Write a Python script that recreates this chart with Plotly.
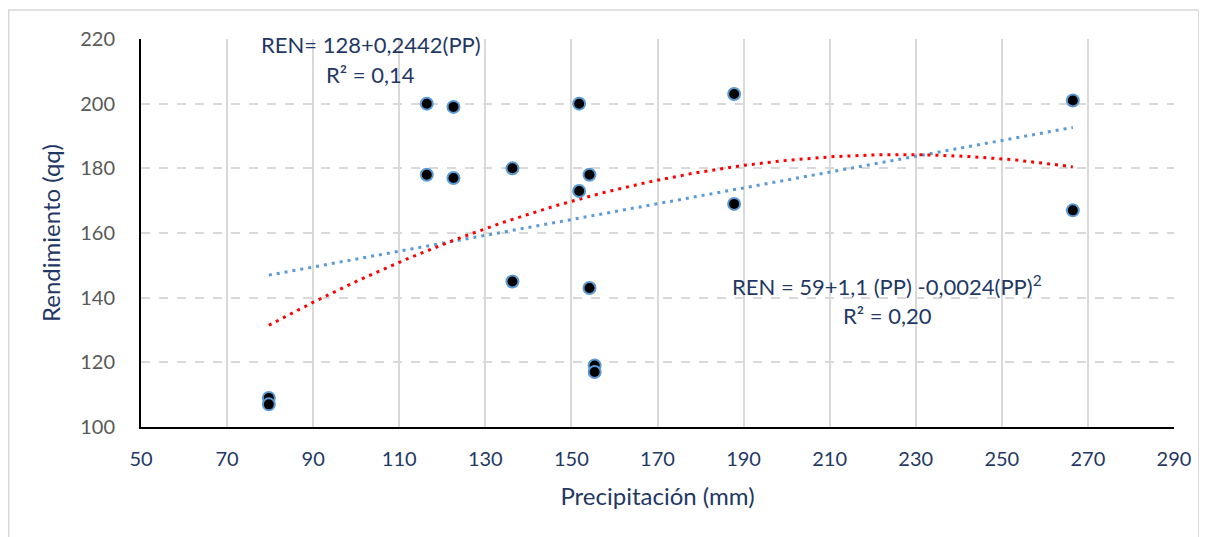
import numpy as np
import plotly.graph_objects as go

# Data
precip_mm = [79.7, 79.7, 116.4, 116.4, 122.6, 122.6, 136.3, 136.3, 151.8, 151.8,
             154.2, 154.2, 155.4, 155.4, 187.8, 187.8, 266.5, 266.5]
rendimiento_qq = [109, 107, 200, 178, 199, 177, 180, 145, 200, 173,
                  178, 143, 119, 117, 203, 169, 201, 167]

x_ticks = list(range(50, 291, 20))
y_ticks = list(range(100, 221, 20))

eq_lin = "REN= 128+0,2442(PP)"
r2_lin = "R² = 0,14"
eq_quad = "REN = 59+1,1 (PP) -0,0024(PP)<sup>2</sup>"
r2_quad = "R² = 0,20"

NAVY = "#1F3864"
FONT = "Lato"

x = np.array(precip_mm)
y = np.array(rendimiento_qq)
xs = np.linspace(x.min(), x.max(), 200)
lin = np.polyval(np.polyfit(x, y, 1), xs)
quad = np.polyval(np.polyfit(x, y, 2), xs)

fig = go.Figure()
fig.add_trace(go.Scatter(x=xs, y=lin, mode="lines",
                         line=dict(color="#5B9BD5", width=3, dash="3px,5px"),
                         hoverinfo="skip", showlegend=False))
fig.add_trace(go.Scatter(x=xs, y=quad, mode="lines",
                         line=dict(color="#FF0000", width=3, dash="3px,5px"),
                         hoverinfo="skip", showlegend=False))
fig.add_trace(go.Scatter(x=precip_mm, y=rendimiento_qq, mode="markers",
                         marker=dict(color="black", size=12,
                                     line=dict(color="#5B9BD5", width=2)),
                         showlegend=False))

# page has an 8px body margin: figure occupies page x 8..1207, y 8..537
fig.update_layout(
    width=1199, height=529,
    margin=dict(l=133, r=33, t=31, b=110),
    paper_bgcolor="white", plot_bgcolor="white",
    font=dict(family=FONT, size=20, color=NAVY),
    xaxis=dict(range=[50, 290], tickvals=x_ticks, showgrid=True,
               gridcolor="#D9D9D9", gridwidth=1.5, showline=True,
               linecolor="black", linewidth=2, zeroline=False,
               tickfont=dict(family=FONT, size=20, color=NAVY),
               ticklabelstandoff=13,
               title=dict(text="Precipitación (mm)", standoff=19,
                          font=dict(family=FONT, size=24, color=NAVY))),
    yaxis=dict(range=[100, 220], tickvals=y_ticks, showgrid=True,
               gridcolor="#D9D9D9", gridwidth=1.5, griddash="dash",
               showline=True, linecolor="black", linewidth=2, zeroline=False,
               tickfont=dict(family=FONT, size=20, color="#595959"),
               ticklabelstandoff=20,
               title=dict(text="Rendimiento (qq)", standoff=13,
                          font=dict(family=FONT, size=24, color=NAVY))),
    shapes=[dict(type="rect", xref="paper", yref="paper",
                 x0=-0.1280, x1=1.024, y0=-0.3, y1=1.0747,
                 line=dict(color="#D9D9D9", width=1.5), layer="below")],
)


def px_to_data(px, py):
    # page pixel -> data coordinates of the reference chart
    dx = 50 + (px - 141.3) / 4.3
    dy = 100 + (426.7 - py) / 3.233
    return dx, dy


for (pxx, pyy), txt in [((371, 44), eq_lin), ((371, 74), r2_lin),
                        ((887, 285), eq_quad), ((887, 315), r2_quad)]:
    ax, ay = px_to_data(pxx, pyy)
    fig.add_annotation(x=ax, y=ay, xref="x", yref="y", text=txt, showarrow=False,
                       font=dict(family=FONT, size=22, color=NAVY))

fig.write_html("out.html")
